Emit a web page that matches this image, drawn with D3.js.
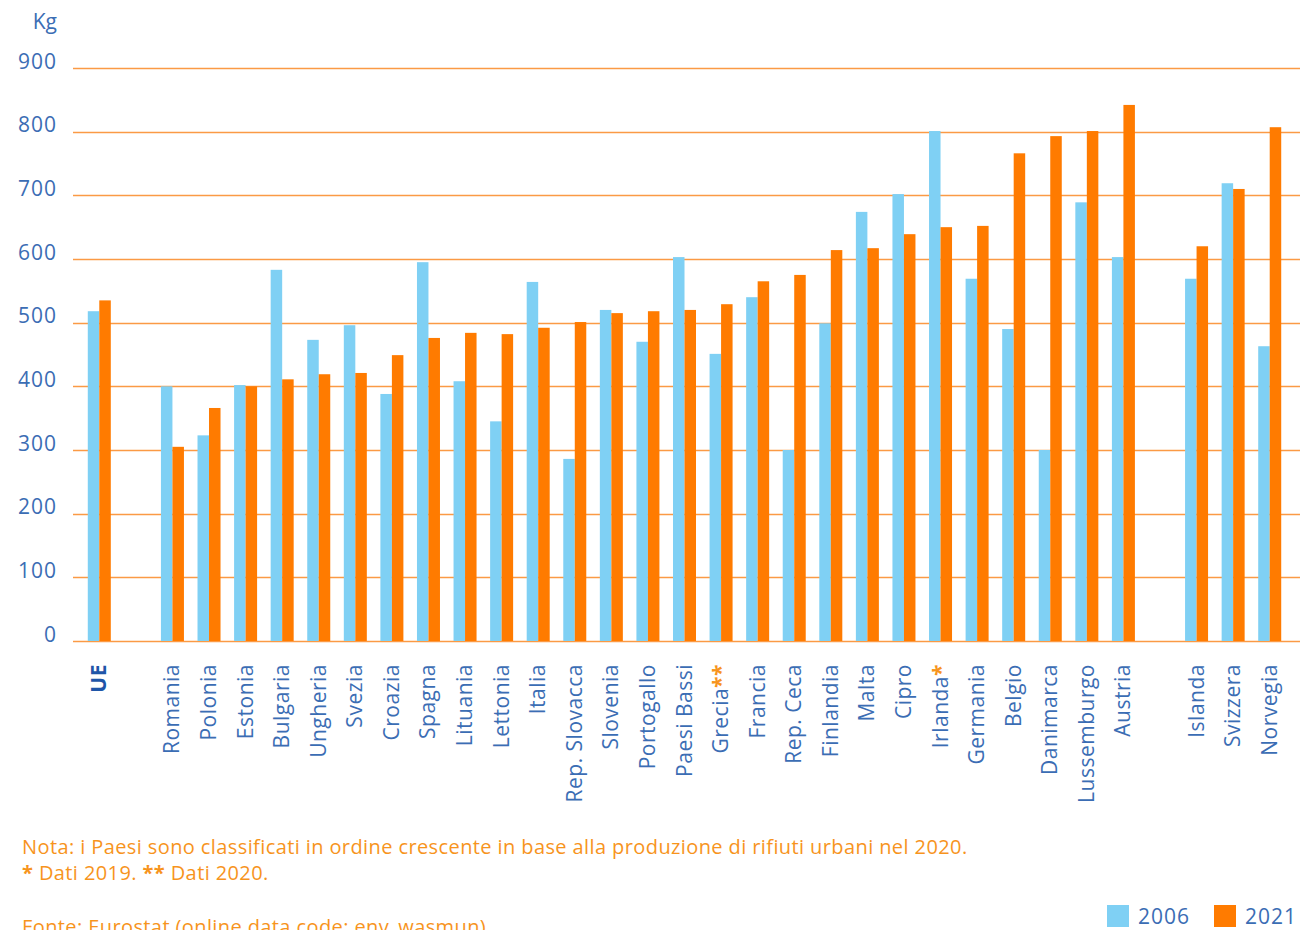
<!DOCTYPE html>
<html>
<head>
<meta charset="utf-8">
<script src="https://cdn.jsdelivr.net/npm/d3@7/dist/d3.min.js"></script>
<style>
  html, body { margin: 0; padding: 0; background: #ffffff; }
  svg { display: block; }
  text { font-family: "Open Sans", "Noto Sans", sans-serif; }
</style>
</head>
<body>
<svg id="chart" width="1300" height="930"></svg>
<script>
// Urban waste per capita (kg), 2006 vs 2021
const countries = [
  "UE",
  "Romania", "Polonia", "Estonia", "Bulgaria", "Ungheria", "Svezia", "Croazia",
  "Spagna", "Lituania", "Lettonia", "Italia", "Rep. Slovacca", "Slovenia",
  "Portogallo", "Paesi Bassi", "Grecia", "Francia", "Rep. Ceca", "Finlandia",
  "Malta", "Cipro", "Irlanda", "Germania", "Belgio", "Danimarca",
  "Lussemburgo", "Austria",
  "Islanda", "Svizzera", "Norvegia"
];
const values2006 = [
  518,
  400, 323, 402, 583, 473, 496, 388,
  595, 408, 345, 564, 286, 520,
  470, 603, 451, 540, 300, 499,
  674, 702, 801, 569, 490, 300,
  689, 603,
  569, 719, 463
];
const values2021 = [
  535,
  305, 366, 400, 411, 419, 421, 449,
  476, 484, 482, 492, 501, 515,
  518, 520, 529, 565, 575, 614,
  617, 639, 650, 652, 766, 793,
  801, 842,
  620, 710, 807
];
const seriesNames = ["2006", "2021"];
const footnoteMarks = { "Grecia": "**", "Irlanda": "*" };
const yTicks = [0, 100, 200, 300, 400, 500, 600, 700, 800, 900];

const BLUE = "#7fd0f4";
const ORANGE = "#ff7b00";
const GRID = "#fb9a45";
const TEXT_BLUE = "#3b6db4";
const NOTE = "#f7941d";

const svg = d3.select("#chart");

// Slots: EU aggregate, gap, member states, gap, other countries
const slots = ["UE", "_gap1"]
  .concat(countries.slice(1, 28))
  .concat(["_gap2"])
  .concat(countries.slice(28));

const x = d3.scaleBand().domain(slots).range([81, 1288]).paddingInner(0).paddingOuter(0);
const xInner = d3.scaleBand().domain(seriesNames).range([0, x.bandwidth()]).paddingInner(0).paddingOuter(0.59);
const y = d3.scaleLinear().domain([0, 900]).range([641, 68]);

// Horizontal grid lines
svg.append("g")
  .selectAll("line")
  .data(yTicks)
  .join("line")
  .attr("x1", 73).attr("x2", 1300)
  .attr("y1", d => Math.round(y(d)) + 0.5)
  .attr("y2", d => Math.round(y(d)) + 0.5)
  .attr("stroke", GRID)
  .attr("stroke-width", 1.3);

// Y tick labels
svg.append("g")
  .selectAll("text")
  .data(yTicks)
  .join("text")
  .attr("x", 57)
  .attr("y", d => y(d) - 5)
  .attr("text-anchor", "end")
  .attr("dominant-baseline", "middle")
  .attr("font-size", 21)
  .attr("letter-spacing", 1)
  .attr("fill", TEXT_BLUE)
  .text(d => d);

svg.append("text")
  .attr("x", 57).attr("y", 29)
  .attr("text-anchor", "end")
  .attr("font-size", 21)
  .attr("fill", TEXT_BLUE)
  .text("Kg");

// Bars
const rows = countries.map((c, i) => ({ country: c, vals: [values2006[i], values2021[i]] }));
const colors = [BLUE, ORANGE];

const groups = svg.append("g")
  .selectAll("g")
  .data(rows)
  .join("g")
  .attr("transform", d => `translate(${x(d.country)},0)`);

groups.selectAll("rect")
  .data(d => d.vals.map((v, k) => ({ key: seriesNames[k], v, k })))
  .join("rect")
  .attr("x", d => xInner(d.key))
  .attr("width", xInner.bandwidth())
  .attr("y", d => y(d.v))
  .attr("height", d => y(0) - y(d.v))
  .attr("fill", d => colors[d.k]);

// Category labels, rotated
const labels = svg.append("g")
  .selectAll("text")
  .data(countries)
  .join("text")
  .attr("transform", d => `translate(${x(d) + x.bandwidth() / 2 + 7},664) rotate(-90)`)
  .attr("text-anchor", "end")
  .attr("font-size", 21)
  .attr("letter-spacing", 0.5)
  .attr("font-weight", d => d === "UE" ? 700 : 400)
  .attr("fill", d => d === "UE" ? "#1f56a8" : TEXT_BLUE);

labels.append("tspan")
  .attr("fill", NOTE)
  .attr("font-weight", 700)
  .text(d => footnoteMarks[d] || "");
labels.insert("tspan", "tspan")
  .text(d => d);

// Notes
const notes = svg.append("g").attr("font-size", 20).attr("letter-spacing", 0.4).attr("fill", NOTE);
notes.append("text").attr("x", 22).attr("y", 854)
  .text("Nota: i Paesi sono classificati in ordine crescente in base alla produzione di rifiuti urbani nel 2020.");
const n2 = notes.append("text").attr("x", 22).attr("y", 880);
n2.append("tspan").attr("font-weight", 700).text("*");
n2.append("tspan").text(" Dati 2019. ");
n2.append("tspan").attr("font-weight", 700).text("**");
n2.append("tspan").text(" Dati 2020.");
notes.append("text").attr("x", 22).attr("y", 934)
  .text("Fonte: Eurostat (online data code: env_wasmun)");

// Legend
const legend = svg.append("g").attr("transform", "translate(1107,905)");
const legendItems = legend.selectAll("g")
  .data(seriesNames)
  .join("g")
  .attr("transform", (d, i) => `translate(${i * 107},0)`);
legendItems.append("rect")
  .attr("width", 22).attr("height", 22)
  .attr("fill", (d, i) => colors[i]);
legendItems.append("text")
  .attr("x", 31).attr("y", 19)
  .attr("font-size", 21)
  .attr("letter-spacing", 1)
  .attr("fill", TEXT_BLUE)
  .text(d => d);
</script>
</body>
</html>
